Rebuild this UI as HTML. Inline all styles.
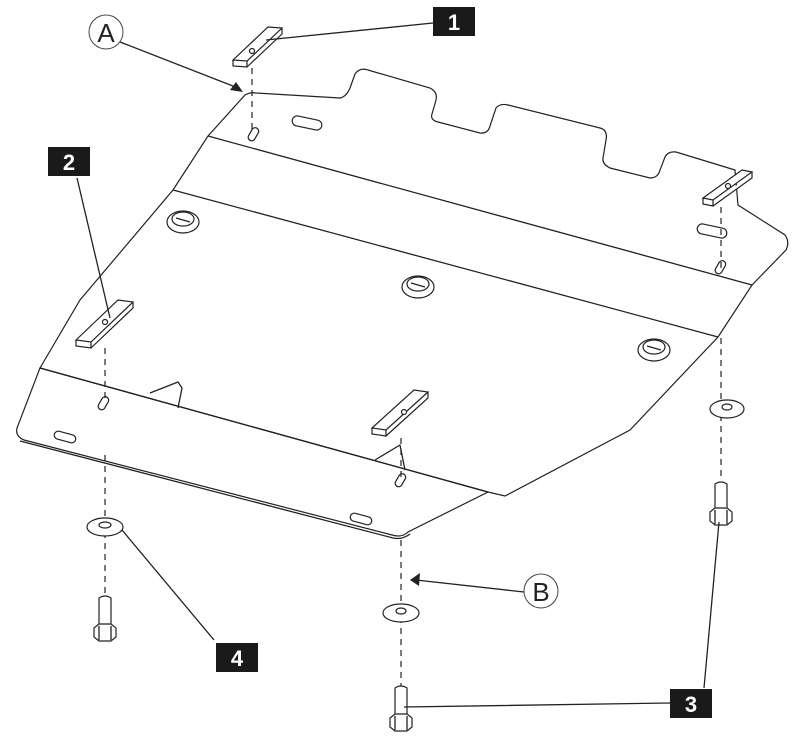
<!DOCTYPE html>
<html><head><style>
body{margin:0;background:#fff;width:800px;height:746px;overflow:hidden}
svg{display:block}
.l{fill:none;stroke:#222;stroke-width:1.3;stroke-linejoin:round}
.f{fill:#fff;stroke:#222;stroke-width:1.2}
.d{fill:none;stroke:#222;stroke-width:1.2;stroke-dasharray:6,5}
.t{fill:#fff;font-family:"Liberation Sans",sans-serif;font-weight:bold;font-size:22px}
.c{font-family:"Liberation Sans",sans-serif;font-size:26px;fill:#222}
</style></head><body>
<svg width="800" height="746" viewBox="0 0 800 746">
<path class="f" d="M40,368 L17,428 Q15,436 24,440 L392,535 Q402,538 408,532 L488,492 L40,368 Z"/>
<path class="l" d="M20,441 L393,538 Q402,540 410,534"/>
<path class="f" d="M40,368 L80,300 L173,190 L208,136 L245,95 Q250,92 256,93 L340,98 Q346,97 350,88 L355,74 Q360,67 368,70 L430,88 Q438,92 436,100 L432,114 Q430,120 438,122 L480,133 Q488,134 490,126 L496,108 Q500,103 508,105 L600,128 Q608,130 606,140 L603,158 Q602,164 610,168 L650,178 Q658,178 660,170 L665,157 Q668,151 676,152 L735,170 L738,205 L785,235 Q790,242 786,250 L752,285 L718,337 L630,430 L505,496 L488,492 Z"/>
<path class="l" d="M208,136 L752,285 M173,190 L718,337 M40,368 L488,492"/>
<path class="l" d="M150,393 L178,382 L182,388 L178,408 M375,460 L400,445 L405,470"/>
<g class="f">
<rect x="292" y="118" width="30" height="10" rx="5" transform="rotate(12 307 123)"/>
<rect x="697" y="226" width="30" height="10" rx="5" transform="rotate(12 712 231)"/>
<rect x="54" y="433" width="22" height="8" rx="4" transform="rotate(15 65 437)"/>
<rect x="350" y="515" width="22" height="8" rx="4" transform="rotate(15 361 519)"/>
<rect x="246" y="131" width="14" height="7" rx="3.5" transform="rotate(-60 253 134)"/>
<rect x="96" y="400" width="14" height="7" rx="3.5" transform="rotate(-60 103 403)"/>
<rect x="393" y="477" width="14" height="7" rx="3.5" transform="rotate(-60 400 480)"/>
<rect x="713" y="264" width="14" height="7" rx="3.5" transform="rotate(-60 720 267)"/>
</g>
<g class="f">
<ellipse cx="183" cy="222" rx="16" ry="11"/><ellipse cx="183" cy="219" rx="11" ry="7"/>
<ellipse cx="418" cy="287" rx="16" ry="11"/><ellipse cx="418" cy="284" rx="11" ry="7"/>
<ellipse cx="654" cy="350" rx="16" ry="11"/><ellipse cx="654" cy="347" rx="11" ry="7"/>
</g>
<path class="l" d="M176,218 L190,222 M411,283 L425,287 M647,346 L661,350"/>
<g class="f">
<path d="M233,60 L268,27 L282,28 L247,61 Z M233,60 L233,66 L247,67 L247,61 M247,67 L282,34 L282,28"/>
<path d="M76,340 L118,300 L133,302 L91,342 Z M76,340 L76,346 L91,348 L91,342 M91,348 L133,308 L133,302"/>
<path d="M372,428 L414,390 L428,392 L386,430 Z M372,428 L372,434 L386,436 L386,430 M386,436 L428,398 L428,392"/>
<path d="M703,198 L742,170 L752,172 L713,200 Z M703,198 L703,204 L713,206 L713,200 M713,206 L752,178 L752,172"/>
</g>
<circle cx="252" cy="51" r="2.5" class="f"/><circle cx="105" cy="322" r="2.5" class="f"/>
<circle cx="404" cy="412" r="2.5" class="f"/><circle cx="728" cy="186" r="2.5" class="f"/>
<path class="d" d="M252,68 V130 M105,348 V400 M105,455 V600 M401,438 V478 M401,540 V690 M721,207 V270 M721,338 V480"/>
<g class="f">
<ellipse cx="105" cy="527" rx="18" ry="9"/><ellipse cx="105" cy="525" rx="6" ry="3"/>
<ellipse cx="401" cy="613" rx="18" ry="9"/><ellipse cx="401" cy="611" rx="5" ry="3"/>
<ellipse cx="727" cy="409" rx="17" ry="9"/><ellipse cx="727" cy="407" rx="5" ry="3"/>
</g>
<g class="f">
<path d="M99,598 Q105,594 111,598 V626 H99 Z"/><path d="M94,628 L99,624 H111 L116,628 V637 L111,641 H99 L94,637 Z"/><path class="l" d="M99,626 V640 M111,626 V640"/>
<path d="M395,688 Q401,684 407,688 V716 H395 Z"/><path d="M390,718 L395,714 H407 L412,718 V727 L407,731 H395 L390,727 Z"/><path class="l" d="M395,716 V730 M407,716 V730"/>
<path d="M715,484 Q721,480 727,484 V510 H715 Z"/><path d="M710,512 L715,508 H727 L732,512 V521 L727,525 H715 L710,521 Z"/><path class="l" d="M715,510 V524 M727,510 V524"/>
</g>
<path class="l" stroke-width="1" d="M433,23 L266,40 M77,178 L110,318 M214,640 L122,530 M670,703 L404,707 M704,688 L719,522"/>
<path class="l" d="M120,42 L238,88 M524,592 L416,580"/>
<path d="M243,92 L230,90 L236,82 Z" fill="#222"/>
<path d="M410,580 L420,573 L419,586 Z" fill="#222"/>
<rect x="433" y="7" width="42" height="29" fill="#1a1a1a"/><text class="t" x="454" y="30" text-anchor="middle">1</text>
<rect x="48" y="147" width="42" height="29" fill="#1a1a1a"/><text class="t" x="69" y="170" text-anchor="middle">2</text>
<rect x="216" y="643" width="42" height="29" fill="#1a1a1a"/><text class="t" x="237" y="666" text-anchor="middle">4</text>
<rect x="670" y="689" width="42" height="29" fill="#1a1a1a"/><text class="t" x="691" y="712" text-anchor="middle">3</text>
<ellipse cx="106" cy="32" rx="17" ry="17" fill="#fff" stroke="#444" stroke-width="1"/>
<text class="c" x="106" y="42" text-anchor="middle">A</text>
<ellipse cx="541" cy="591" rx="17" ry="17" fill="#fff" stroke="#444" stroke-width="1"/>
<text class="c" x="541" y="601" text-anchor="middle">B</text>
</svg>
</body></html>
